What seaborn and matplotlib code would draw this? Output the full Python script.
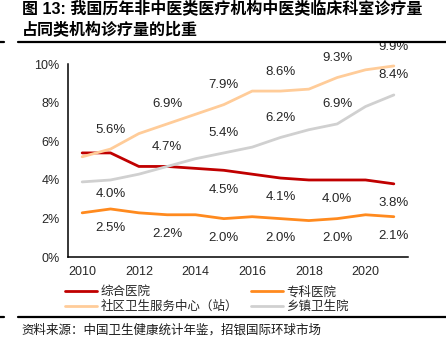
import pandas as pd
import seaborn as sns
import matplotlib.pyplot as plt
from matplotlib.lines import Line2D

# data (%)
years = list(range(2010, 2022))
general = [5.4, 5.4, 4.7, 4.7, 4.6, 4.5, 4.3, 4.1, 4.0, 4.0, 4.0, 3.8]
specialty = [2.3, 2.5, 2.3, 2.2, 2.2, 2.0, 2.1, 2.0, 1.9, 2.0, 2.2, 2.1]
community = [5.2, 5.6, 6.4, 6.9, 7.4, 7.9, 8.6, 8.6, 8.7, 9.3, 9.7, 9.9]
township = [3.9, 4.0, 4.3, 4.7, 5.1, 5.4, 5.7, 6.2, 6.6, 6.9, 7.8, 8.4]
names = ['综合医院', '专科医院', '社区卫生服务中心（站）', '乡镇卫生院']
series = [general, specialty, community, township]
colors = ['#C00000', '#FF8A1E', '#FFCC99', '#D0D0D0']

# which years get a value label, and above (+) or below (-) the line
label_years = [
    [2015, 2017, 2019, 2021],
    [2011, 2013, 2015, 2017, 2019, 2021],
    [2011, 2013, 2015, 2017, 2019, 2021],
    [2011, 2013, 2015, 2017, 2019, 2021],
]
label_side = [
    [-1, -1, -1, -1],
    [-1, -1, -1, -1, -1, -1],
    [1, 1, 1, 1, 1, 1],
    [-0.7, 1, 1, 1, 1, 1],
]

df = pd.DataFrame({
    'year': years * 4,
    'value': general + specialty + community + township,
    'type': sum([[n] * len(years) for n in names], []),
})

sns.set_style('white')
plt.rcParams['font.family'] = ['Liberation Sans', 'Noto Sans CJK SC', 'DejaVu Sans']

fig = plt.figure(figsize=(4.46, 3.5), dpi=100)
ax = fig.add_axes([0.1525, 0.2649, 0.7623, 0.5522])

sns.lineplot(data=df, x='year', y='value', hue='type', hue_order=names,
             palette=colors, linewidth=2.0, ax=ax, legend=False)

# value labels
for vals, yrs, sides in zip(series, label_years, label_side):
    for yr, s in zip(yrs, sides):
        v = vals[years.index(yr)]
        ax.annotate(f'{v:.1f}%', (yr, v), xytext=(0, 14 * s), textcoords='offset points',
                    ha='center', va='center', fontsize=9.5, color='#262626',
                    annotation_clip=False)

ax.set_xlim(2009.5, 2021.5)
ax.set_ylim(0, 10)
ax.set_yticks([0, 2, 4, 6, 8, 10])
ax.set_yticklabels([f'{t}%' for t in [0, 2, 4, 6, 8, 10]])
ax.set_xticks([y - 0.5 for y in years] + [2021.5])
ax.set_xticklabels([])
ax.set_xticks(years[::2], minor=True)
ax.set_xticklabels([str(y) for y in years[::2]], minor=True)
ax.tick_params(axis='x', which='major', direction='out', length=4, width=1, color='black')
ax.tick_params(axis='x', which='minor', length=0, pad=6, labelsize=9)
ax.tick_params(axis='y', direction='out', length=4, width=1, color='black', labelsize=9, pad=2)
ax.set_xlabel('')
ax.set_ylabel('')
for side in ['top', 'right']:
    ax.spines[side].set_visible(False)
for side in ['left', 'bottom']:
    ax.spines[side].set_color('black')
    ax.spines[side].set_linewidth(1.1)

# title
fig.text(0.05, 0.975, '图 13: 我国历年非中医类医疗机构中医类临床科室诊疗量',
         fontsize=11.5, fontweight='bold', va='center', ha='left', color='black')
fig.text(0.05, 0.917, '占同类机构诊疗量的比重',
         fontsize=11.5, fontweight='bold', va='center', ha='left', color='black')

# rules
for y in [1 - 42 / 350, 1 - 317 / 350]:
    fig.add_artist(Line2D([0.04, 1.0], [y, y], color='black', lw=1.6))
    fig.add_artist(Line2D([0.0, 0.01], [y, y], color='black', lw=1.6))

# legend, two rows: fill order is column-wise
handles = [Line2D([], [], color=c, lw=2.0) for c in colors]
order = [0, 2, 1, 3]
fig.legend([handles[i] for i in order], [names[i] for i in order], ncol=2,
           loc='upper left', bbox_to_anchor=(0.146, 0.185),
           frameon=False, handlelength=2.55, handletextpad=0.3,
           columnspacing=1.0, labelspacing=0.15, borderpad=0, borderaxespad=0,
           prop={'family': ['Noto Sans CJK SC'], 'size': 9})

fig.text(0.049, 0.057, '资料来源：中国卫生健康统计年鉴，招银国际环球市场',
         fontsize=9, va='center', ha='left', color='#1a1a1a',
         family=['Noto Sans CJK SC'])

fig.savefig('out.png', dpi=100)
